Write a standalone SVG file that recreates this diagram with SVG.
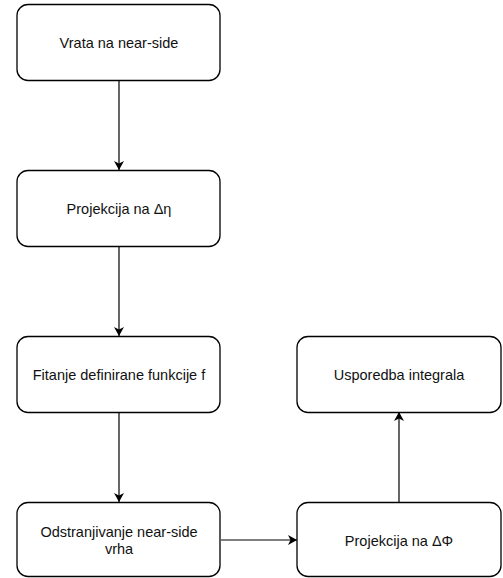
<svg xmlns="http://www.w3.org/2000/svg" width="503" height="578" viewBox="0 0 503 578">
<style>
.box{fill:#fff;stroke:#000;stroke-width:1.3}
.t{font-family:"Liberation Sans",Arial,sans-serif;font-size:14.5px;fill:#111;text-anchor:middle}
.c{stroke:#000;stroke-width:1.2;fill:none}
</style>
<defs>
<marker id="ah" markerWidth="12" markerHeight="12" refX="10" refY="6" orient="auto" markerUnits="userSpaceOnUse">
<path d="M1,1 L10,6 L1,11 L3.5,6 Z" fill="#000"/>
</marker>
</defs>
<rect width="503" height="578" fill="#fff"/>
<g id="connectors">
<line class="c" x1="119" y1="80" x2="119" y2="170" marker-end="url(#ah)"/>
<line class="c" x1="119" y1="246" x2="119" y2="336" marker-end="url(#ah)"/>
<line class="c" x1="119" y1="412" x2="119" y2="502" marker-end="url(#ah)"/>
<line class="c" x1="221" y1="540" x2="297" y2="540" marker-end="url(#ah)"/>
<line class="c" x1="399" y1="502" x2="399" y2="412" marker-end="url(#ah)"/>
</g>
<g id="n1"><rect class="box" x="17" y="4.5" width="203" height="76" rx="11"/><text class="t" x="119" y="48">Vrata na near-side</text></g>
<g id="n2"><rect class="box" x="17" y="170.5" width="203" height="76" rx="11"/><text class="t" x="119" y="214">Projekcija na Δη</text></g>
<g id="n3"><rect class="box" x="17" y="336.5" width="203" height="76" rx="11"/><text class="t" x="119" y="380">Fitanje definirane funkcije f</text></g>
<g id="n4"><rect class="box" x="17" y="502.5" width="203" height="74" rx="11"/><text class="t" x="119" y="537">Odstranjivanje near-side</text><text class="t" x="119" y="554">vrha</text></g>
<g id="n5"><rect class="box" x="297" y="336.5" width="204" height="76" rx="11"/><text class="t" x="399" y="380">Usporedba integrala</text></g>
<g id="n6"><rect class="box" x="297" y="502.5" width="204" height="74" rx="11"/><text class="t" x="399" y="546">Projekcija na ΔΦ</text></g>
</svg>
